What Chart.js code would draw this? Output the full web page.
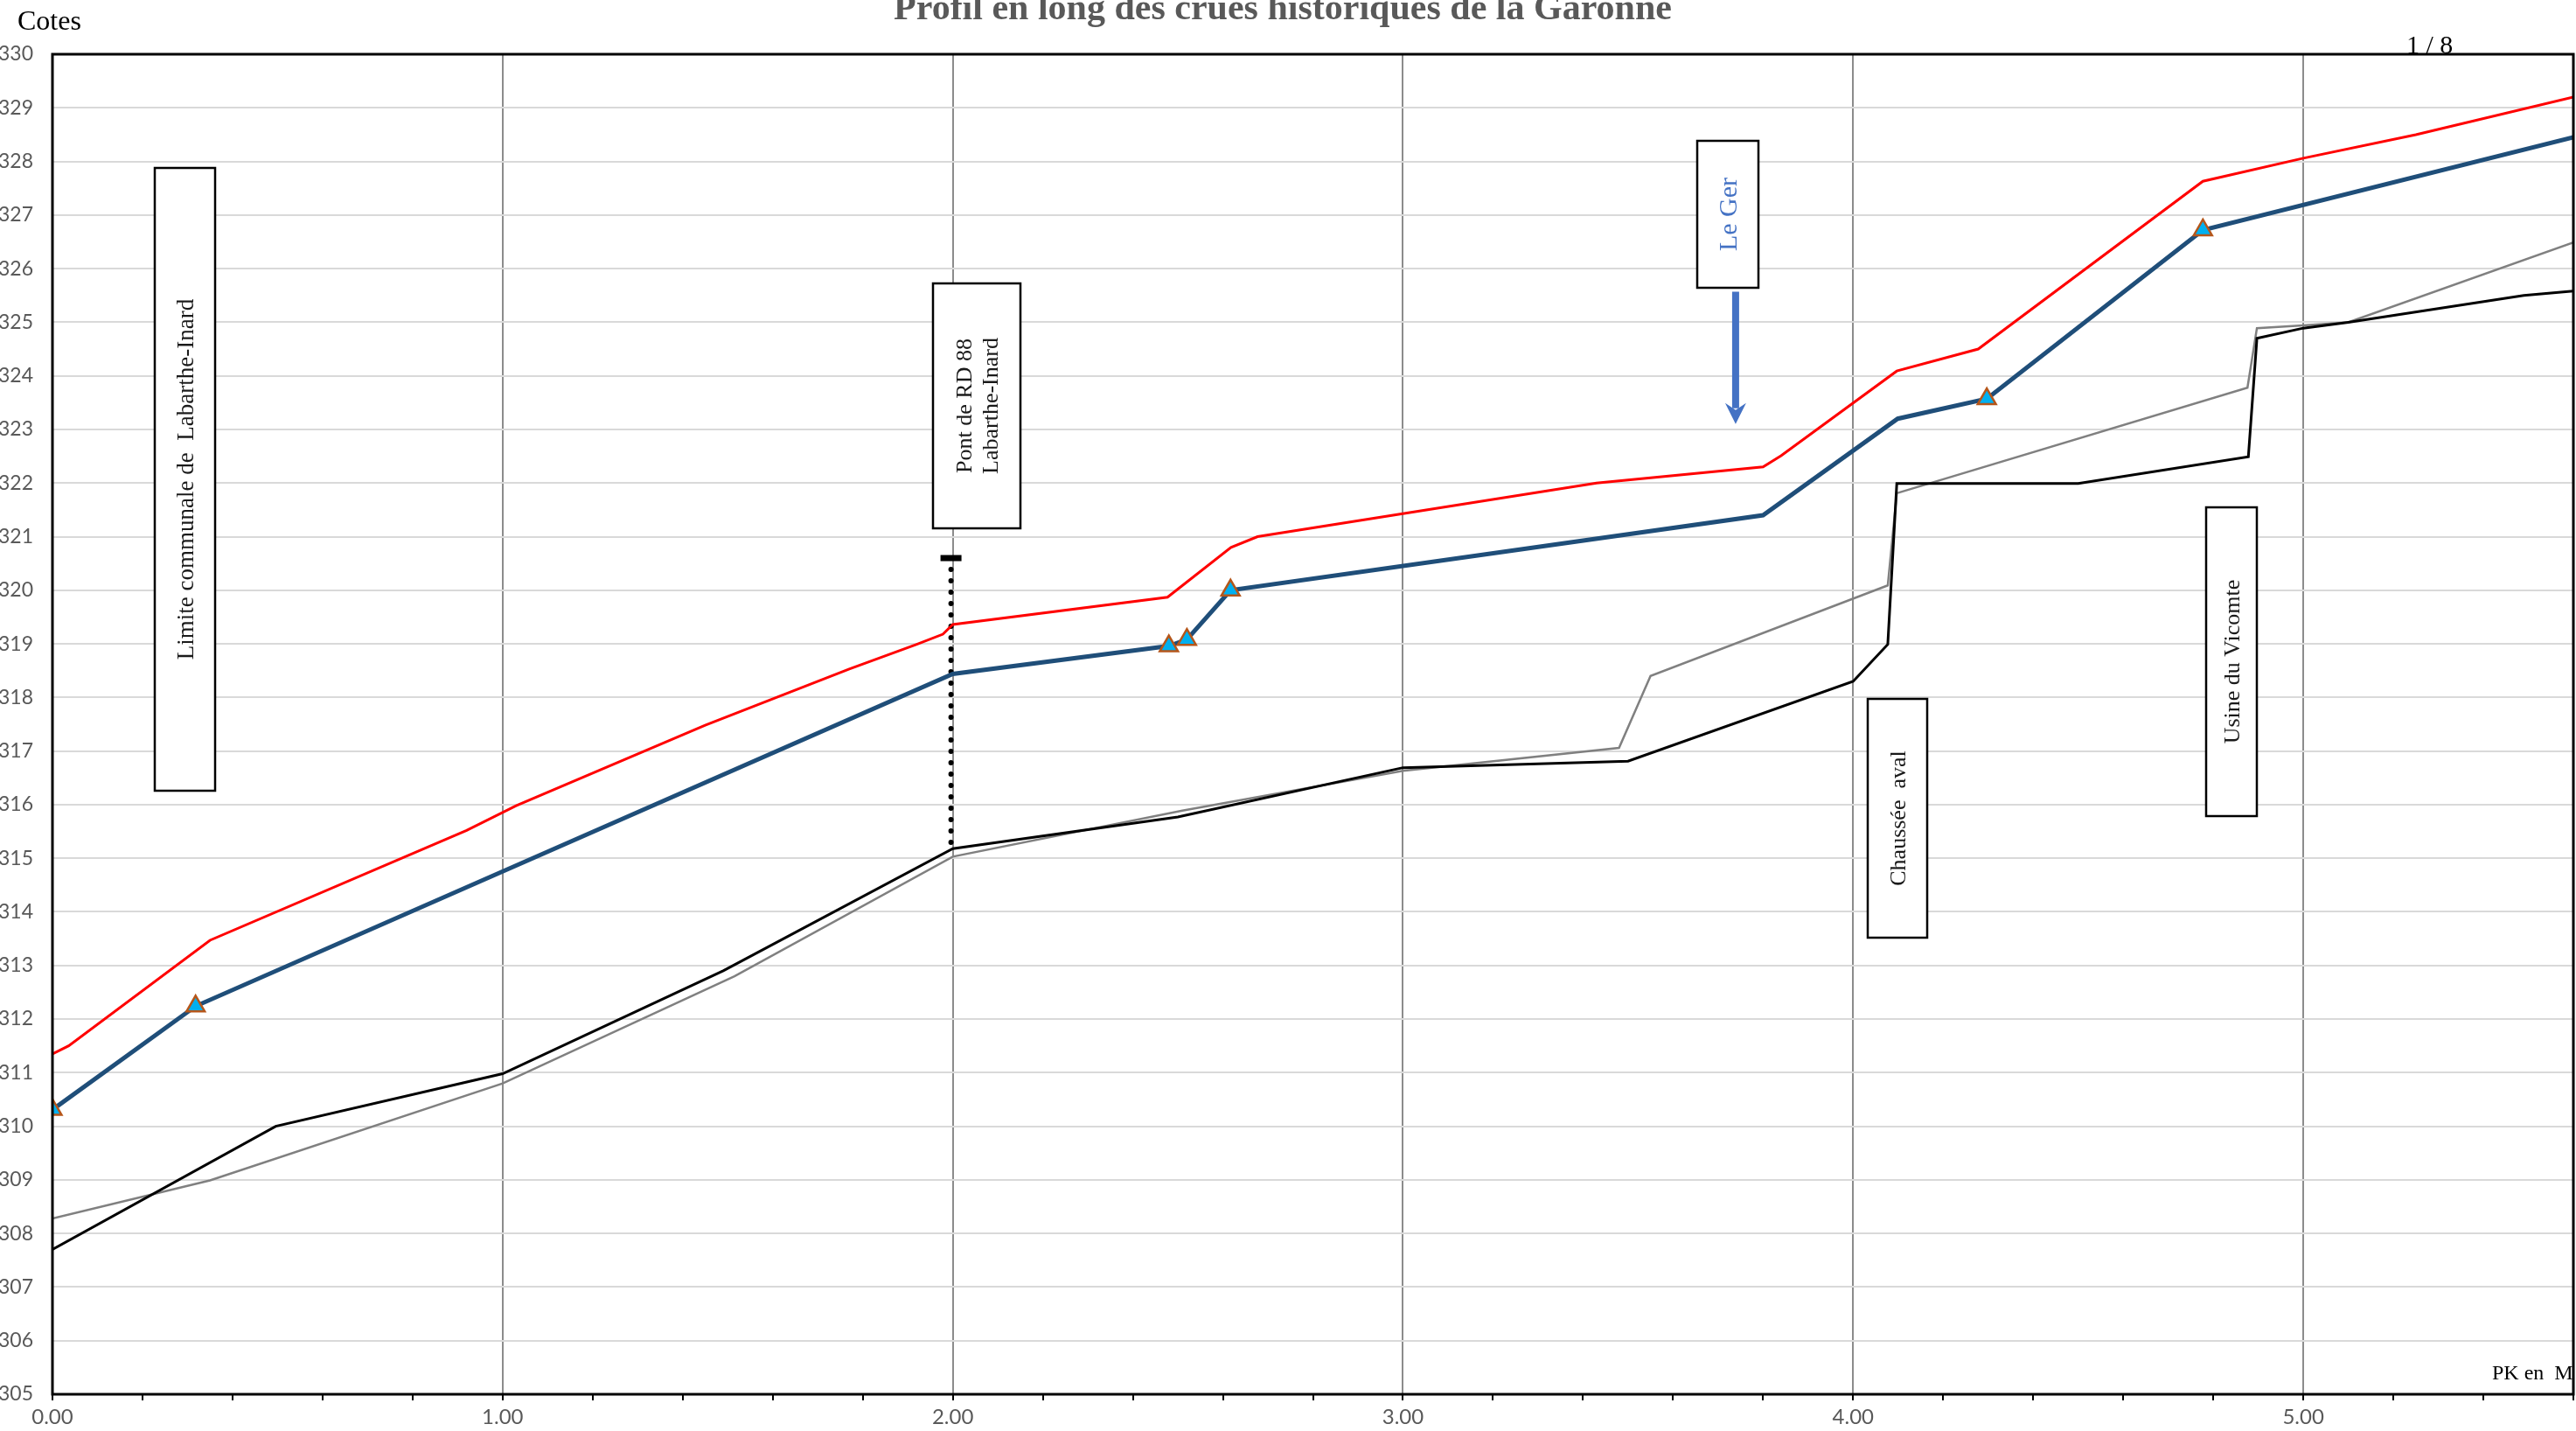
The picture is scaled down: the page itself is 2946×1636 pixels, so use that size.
<!DOCTYPE html>
<html><head><meta charset="utf-8">
<script src="https://cdn.jsdelivr.net/npm/chart.js@4.4.1/dist/chart.umd.min.js"></script>
<style>html,body{margin:0;padding:0;background:#fff;overflow:hidden}canvas{display:block}</style>
</head><body>
<canvas id="c" width="2946" height="1636"></canvas>
<script>
// ---- Data (PK in km, cotes in m NGF) ----
const pkCrueRouge   = [0, 0.036, 0.35, 0.92, 1.03, 1.45, 1.77, 1.92, 1.978, 2.0, 2.477, 2.618, 2.677, 3.43, 3.80, 3.84, 4.097, 4.278, 4.777, 5.0, 5.25, 5.6];
const coteCrueRouge = [311.35, 311.5, 313.47, 315.52, 315.98, 317.48, 318.53, 318.99, 319.18, 319.36, 319.87, 320.80, 321.0, 322.0, 322.30, 322.51, 324.09, 324.5, 327.63, 328.06, 328.5, 329.2];

const pkCrueBleue   = [0, 0.318, 2.0, 2.48, 2.52, 2.617, 3.80, 4.099, 4.297, 4.777, 5.6];
const coteCrueBleue = [310.31, 312.24, 318.44, 318.96, 319.08, 320.0, 321.40, 323.2, 323.57, 326.72, 328.45];

const pkReperes   = [0, 0.318, 2.48, 2.52, 2.617, 4.297, 4.777];
const coteReperes = [310.31, 312.24, 318.96, 319.08, 320.0, 323.57, 326.72];

const pkFond   = [0, 0.496, 1.0, 1.49, 2.0, 2.5, 3.0, 3.5, 4.0, 4.077, 4.097, 4.50, 4.878, 4.897, 5.0, 5.10, 5.49, 5.6];
const coteFond = [307.7, 310.0, 310.98, 312.9, 315.18, 315.77, 316.69, 316.81, 318.30, 318.99, 321.99, 321.99, 322.49, 324.70, 324.89, 325.0, 325.5, 325.58];

const pkBerge   = [0, 0.35, 1.0, 1.515, 2.0, 2.51, 3.0, 3.48, 3.55, 4.077, 4.097, 4.876, 4.897, 5.0, 5.10, 5.6];
const coteBerge = [308.28, 308.99, 310.8, 312.8, 315.03, 315.89, 316.63, 317.06, 318.4, 320.09, 321.81, 323.78, 324.89, 324.94, 325.0, 326.49];

const pkPont   = [1.996, 1.996];
const cotePont = [320.6, 315.2];

const xTickLabels = ['0.00', '1.00', '2.00', '3.00', '4.00', '5.00'];
const yTickValues = [305, 306, 307, 308, 309, 310, 311, 312, 313, 314, 315, 316, 317, 318, 319, 320, 321, 322, 323, 324, 325, 326, 327, 328, 329, 330];

const titreTexte = 'Profil en long des crues historiques de la Garonne';
const axeYTexte = 'Cotes';
const axeXTexte = 'PK en  M';
const pageTexte = '1 / 8';

// Annotation boxes (data coordinates)
const annotations = [
  { x1: 0.227, x2: 0.361, yTop: 327.88, yBot: 316.26, lines: ['Limite communale de  Labarthe-Inard'], size: 27, color: '#1a1a1a' },
  { x1: 1.956, x2: 2.150, yTop: 325.72, yBot: 321.16, lines: ['Pont de RD 88', 'Labarthe-Inard'], size: 26, color: '#1a1a1a' },
  { x1: 3.654, x2: 3.790, yTop: 328.38, yBot: 325.64, lines: ['Le Ger'], size: 30, color: '#4472C4' },
  { x1: 4.033, x2: 4.165, yTop: 317.97, yBot: 313.52, lines: ['Chaussée  aval'], size: 26, color: '#1a1a1a' },
  { x1: 4.785, x2: 4.897, yTop: 321.55, yBot: 315.79, lines: ['Usine du Vicomte'], size: 26, color: '#1a1a1a' }
];
const flecheGer = { x: 3.739, yFrom: 325.57, yTo: 323.10 };

const zip = (xs, ys) => xs.map((v, i) => ({ x: v, y: ys[i] }));
const isInt = v => Math.abs(v - Math.round(v)) < 1e-6;

const decorPlugin = {
  id: 'decor',
  afterDatasetsDraw(chart) {
    const { ctx, chartArea: a, scales: { x, y } } = chart;
    ctx.save();
    ctx.strokeStyle = '#000';
    ctx.lineWidth = 3;
    ctx.strokeRect(a.left, a.top, a.right - a.left, a.bottom - a.top);
    annotations.forEach(b => {
      const x1 = Math.round(x.getPixelForValue(b.x1)), x2 = Math.round(x.getPixelForValue(b.x2));
      const y1 = Math.round(y.getPixelForValue(b.yTop)), y2 = Math.round(y.getPixelForValue(b.yBot));
      ctx.fillStyle = '#fff';
      ctx.fillRect(x1, y1, x2 - x1, y2 - y1);
      ctx.strokeStyle = '#000';
      ctx.lineWidth = 2.5;
      ctx.strokeRect(x1, y1, x2 - x1, y2 - y1);
      ctx.save();
      ctx.translate((x1 + x2) / 2, (y1 + y2) / 2);
      ctx.rotate(-Math.PI / 2);
      ctx.font = b.size + 'px "Liberation Serif", serif';
      ctx.fillStyle = b.color;
      ctx.textAlign = 'center';
      ctx.textBaseline = 'middle';
      const n = b.lines.length, lh = b.size * 1.15;
      b.lines.forEach((t, i) => ctx.fillText(t, 0, (i - (n - 1) / 2) * lh + 2));
      ctx.restore();
    });
    const ax = x.getPixelForValue(flecheGer.x);
    const ay1 = y.getPixelForValue(flecheGer.yFrom), ay2 = y.getPixelForValue(flecheGer.yTo);
    ctx.strokeStyle = '#4472C4';
    ctx.fillStyle = '#4472C4';
    ctx.lineWidth = 8;
    ctx.beginPath();
    ctx.moveTo(ax, ay1);
    ctx.lineTo(ax, ay2 - 18);
    ctx.stroke();
    ctx.beginPath();
    ctx.moveTo(ax - 12, ay2 - 24);
    ctx.lineTo(ax, ay2 - 16);
    ctx.lineTo(ax + 12, ay2 - 24);
    ctx.lineTo(ax, ay2);
    ctx.closePath();
    ctx.fill();
    ctx.restore();
  },
  afterDraw(chart) {
    const { ctx } = chart;
    ctx.save();
    ctx.textBaseline = 'alphabetic';
    ctx.fillStyle = '#595959';
    ctx.font = 'bold 42px "Liberation Serif", serif';
    ctx.textAlign = 'center';
    ctx.fillText(titreTexte, 1467, 22);
    ctx.fillStyle = '#000';
    ctx.textAlign = 'left';
    ctx.font = '32px "Liberation Serif", serif';
    ctx.fillText(axeYTexte, 20, 34);
    ctx.font = '30px "Liberation Serif", serif';
    ctx.fillText(pageTexte, 2752, 61);
    ctx.font = '24px "Liberation Serif", serif';
    ctx.fillText(axeXTexte, 2850, 1577);
    ctx.restore();
  }
};

new Chart(document.getElementById('c'), {
  type: 'line',
  data: {
    datasets: [
      { label: 'Repères de crue', data: zip(pkReperes, coteReperes), showLine: false, order: 0,
        pointStyle: 'triangle', pointRadius: 12, pointBackgroundColor: '#00B0F0', pointBorderColor: '#B5561A', pointBorderWidth: 2.5 },
      { label: 'Crue bleue', data: zip(pkCrueBleue, coteCrueBleue), order: 1,
        borderColor: '#1F4E79', borderWidth: 5, pointRadius: 0, tension: 0 },
      { label: 'Crue rouge', data: zip(pkCrueRouge, coteCrueRouge), order: 2,
        borderColor: '#FF0000', borderWidth: 3, pointRadius: 0, tension: 0 },
      { label: 'Fond du lit', data: zip(pkFond, coteFond), order: 3,
        borderColor: '#000000', borderWidth: 3, pointRadius: 0, tension: 0 },
      { label: 'Berge', data: zip(pkBerge, coteBerge), order: 4,
        borderColor: '#808080', borderWidth: 2.5, pointRadius: 0, tension: 0 },
      { label: 'Pont RD 88', data: zip(pkPont, cotePont), order: 5,
        borderColor: '#000000', borderWidth: 6, borderDash: [0, 13], borderCapStyle: 'round', tension: 0,
        pointStyle: 'line', pointRadius: [12, 0], pointBorderWidth: 7, pointBorderColor: '#000', pointBackgroundColor: '#000' }
    ]
  },
  options: {
    responsive: false,
    devicePixelRatio: 1,
    animation: false,
    events: [],
    layout: { autoPadding: false, padding: { top: 62, right: 3, left: 0, bottom: 0 } },
    plugins: { legend: { display: false }, title: { display: false }, tooltip: { enabled: false } },
    scales: {
      x: {
        type: 'linear', min: 0, max: 5.6,
        afterFit: s => { s.height = 42; s.paddingLeft = 0; s.paddingRight = 0; },
        border: { display: false },
        grid: {
          color: c => (c.tick && isInt(c.tick.value)) ? '#8C8C8C' : 'rgba(0,0,0,0)',
          lineWidth: 2, tickColor: '#000', tickWidth: 2, tickLength: 7, drawTicks: true
        },
        ticks: {
          stepSize: 0.2, autoSkip: false, maxRotation: 0, padding: 5,
          color: '#595959', font: { family: 'Lato, "Liberation Sans", sans-serif', size: 24 },
          callback: v => (isInt(v) && Math.round(v) < xTickLabels.length) ? xTickLabels[Math.round(v)] : ''
        }
      },
      y: {
        type: 'linear', min: yTickValues[0], max: yTickValues[yTickValues.length - 1],
        afterFit: s => { s.width = 60; s.paddingTop = 0; s.paddingBottom = 0; },
        border: { display: false },
        grid: { color: '#D9D9D9', lineWidth: 2, drawTicks: false },
        ticks: {
          stepSize: 1, padding: 22, color: '#595959',
          font: { family: 'Lato, "Liberation Sans", sans-serif', size: 23 },
          callback: v => String(v)
        }
      }
    }
  },
  plugins: [decorPlugin]
});
</script>
</body></html>
